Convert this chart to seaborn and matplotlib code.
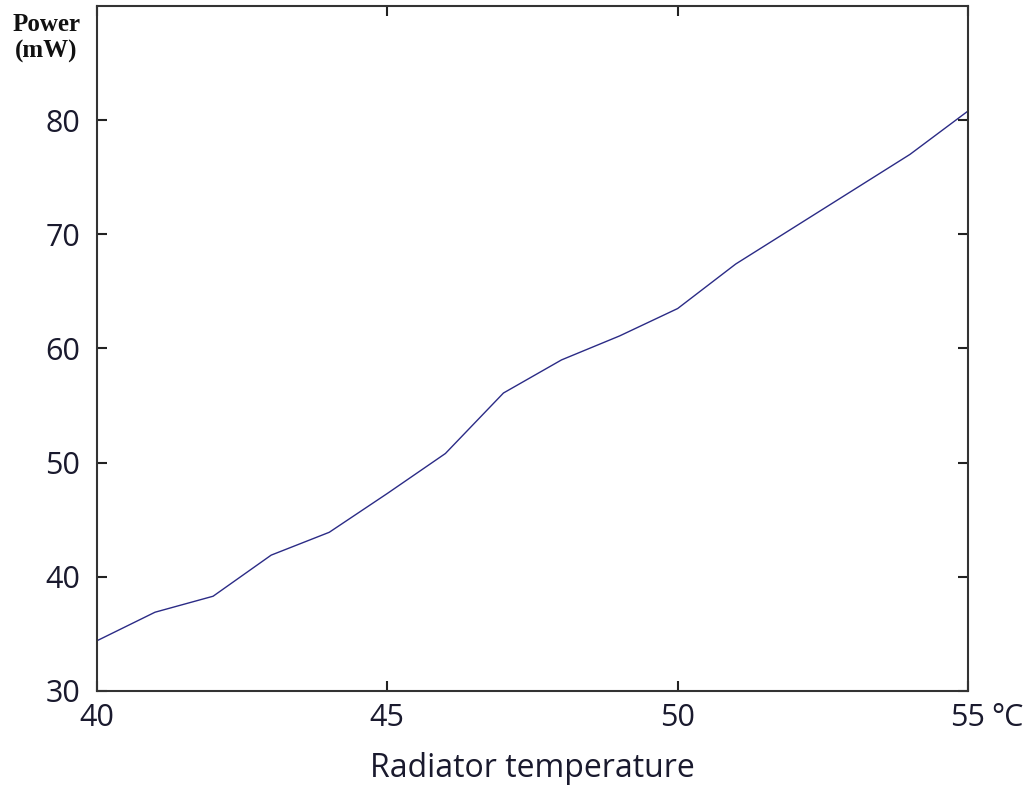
import matplotlib
matplotlib.use("Agg")
import matplotlib.pyplot as plt
import seaborn as sns
import pandas as pd

# Radiator temperature (°C) and measured output power (mW)
temperature = [40, 41, 42, 43, 44, 45, 46, 47, 48, 49, 50, 51, 52, 53, 54, 55]
power = [34.4, 36.9, 38.3, 41.9, 43.9, 47.3, 50.8, 56.1, 59.0, 61.1, 63.5, 67.4, 70.6, 73.8, 77.0, 80.8]

x_ticks = [40, 45, 50, 55]
y_ticks = [30, 40, 50, 60, 70, 80]

df = pd.DataFrame({"temperature": temperature, "power": power})

sns.set_theme(style="ticks")
plt.rcParams["font.family"] = ["Open Sans", "DejaVu Sans"]

fig = plt.figure(figsize=(10.26, 7.87), dpi=100)
ax = fig.add_axes([0.0945, 0.122, 0.849, 0.8704])

sns.lineplot(data=df, x="temperature", y="power", ax=ax,
             color="#2b2b86", linewidth=1.0)

ax.set_xlim(40, 55)
ax.set_ylim(30, 90)
ax.set_xticks(x_ticks)
ax.set_yticks(y_ticks)
ax.set_xticklabels([str(t) for t in x_ticks])
ax.set_yticklabels([str(t) for t in y_ticks])

for side in ["left", "right", "top", "bottom"]:
    ax.spines[side].set_visible(True)
    ax.spines[side].set_color("#333333")
    ax.spines[side].set_linewidth(1.5)

x_pad = 9
ax.tick_params(axis="both", direction="in", length=7, width=1.5,
               color="#222222", labelsize=22, labelcolor="#1a1a2e",
               top=True, right=True)
ax.tick_params(axis="y", pad=12)
ax.tick_params(axis="x", pad=x_pad)

ax.set_xlabel("Radiator temperature", fontsize=23, color="#1a1a2e", labelpad=13)
ax.set_ylabel("")

# unit after the last temperature tick
ax.annotate("°C", xy=(1, 0), xycoords="axes fraction",
            xytext=(17, -x_pad), textcoords="offset points",
            ha="left", va="top", fontsize=22, color="#1a1a2e")

# y-axis title in the top-left corner
fig.text(0.045, 0.984, "Power\n(mW)", ha="center", va="top",
         fontsize=18, fontweight="bold", family="Liberation Serif",
         color="#111111", linespacing=1.2)

fig.savefig("out.png", dpi=100)
